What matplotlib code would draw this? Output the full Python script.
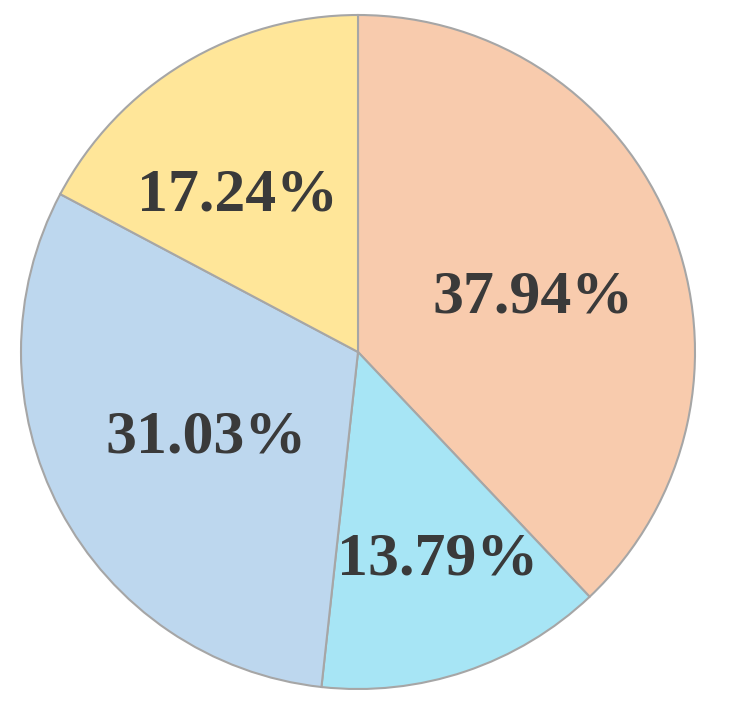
import matplotlib
matplotlib.use("Agg")
import matplotlib.pyplot as plt
import numpy as np

labels = ["A", "B", "C", "D"]
values = [37.94, 13.79, 31.03, 17.24]
colors = ["#F8CBAD", "#A7E5F5", "#BDD7EE", "#FFE699"]
label_radius = [0.544, 0.661, 0.517, 0.588]
label_angle_shift = [-4.3, 2.4, 1.3, 6.6]

fig = plt.figure(figsize=(7.31, 7.05), dpi=100)
ax = fig.add_axes([0, 0, 1, 1])
wedges, _ = ax.pie(values, colors=colors, startangle=90, counterclock=False,
                   radius=1.0,
                   wedgeprops=dict(edgecolor="#A6A6A6", linewidth=1.5))
total = sum(values)
for w, v, r, s in zip(wedges, values, label_radius, label_angle_shift):
    mid = np.deg2rad((w.theta1 + w.theta2) / 2 + s)
    ax.text(r * np.cos(mid), r * np.sin(mid), f"{v / total * 100:.2f}%",
            ha="center", va="center", fontsize=44.5, fontweight="bold",
            family="Liberation Serif", color="#3A3A3A")
ax.set_xlim(-358 / 337, (731 - 358) / 337)
ax.set_ylim(-353 / 337, 352 / 337)
ax.set_aspect("auto")
ax.axis("off")
fig.savefig("out.png", dpi=100)
